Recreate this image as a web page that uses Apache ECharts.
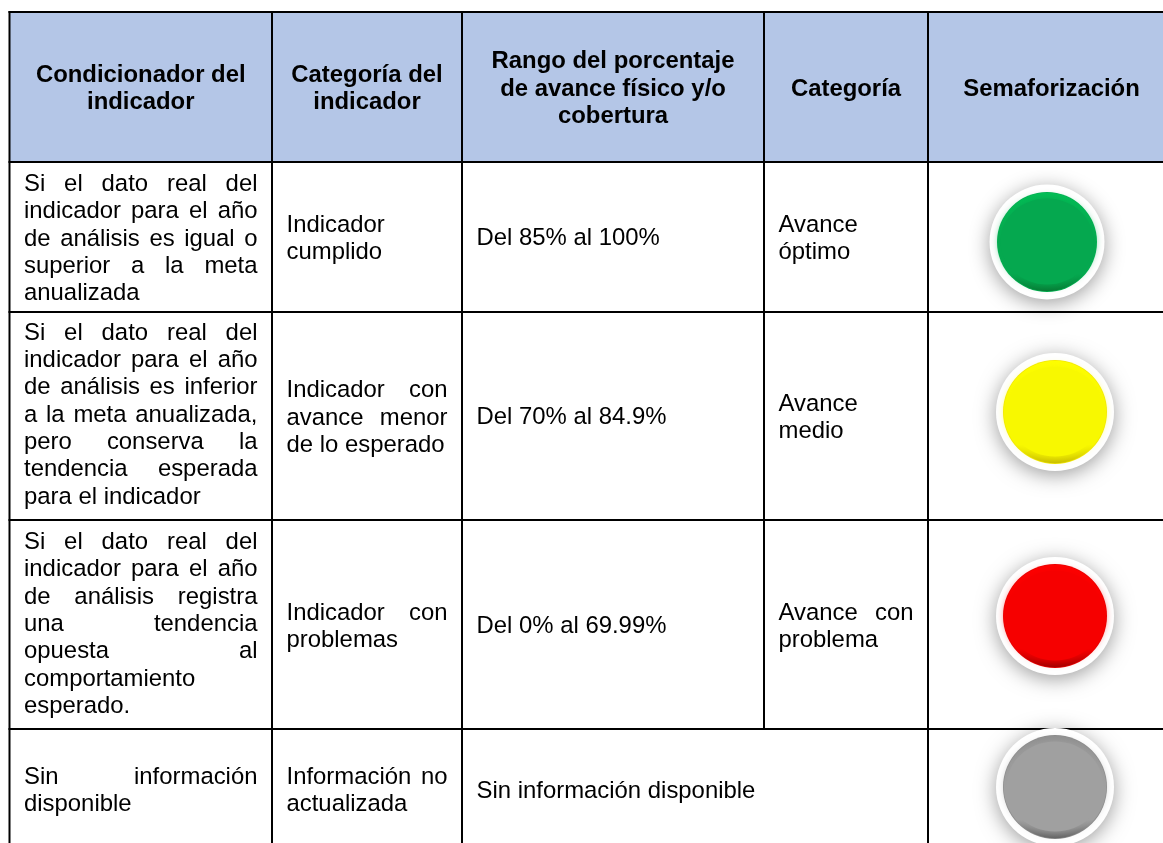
<!DOCTYPE html>
<html>
<head>
    <title>Semaforización</title>
    <meta http-equiv="content-type" content="text/html; charset=utf-8"/>
    <script src="https://cdn.jsdelivr.net/npm/echarts@6/dist/echarts.min.js"></script>
    <style>
        html, body { margin: 0; padding: 0; background: #fff; }
    </style>
</head>
<body>
<div id="main" style="width: 1163px; height: 843px;"></div>
<script type="text/javascript">

    // contenido de la tabla
    var encabezados = [
        ['Condicionador del', 'indicador'],
        ['Categoría del', 'indicador'],
        ['Rango del porcentaje', 'de avance físico y/o', 'cobertura'],
        ['Categoría'],
        ['Semaforización']
    ];
    var condicionador = [
        ['Si el dato real del', 'indicador para el año', 'de análisis es igual o', 'superior a la meta', 'anualizada'],
        ['Si el dato real del', 'indicador para el año', 'de análisis es inferior', 'a la meta anualizada,', 'pero conserva la', 'tendencia esperada', 'para el indicador'],
        ['Si el dato real del', 'indicador para el año', 'de análisis registra', 'una tendencia', 'opuesta al', 'comportamiento', 'esperado.'],
        ['Sin información', 'disponible']
    ];
    var categoriaIndicador = [
        ['Indicador', 'cumplido'],
        ['Indicador con', 'avance menor', 'de lo esperado'],
        ['Indicador con', 'problemas'],
        ['Información no', 'actualizada']
    ];
    var rangoAvance = [
        ['Del 85% al 100%'],
        ['Del 70% al 84.9%'],
        ['Del 0% al 69.99%'],
        ['Sin información disponible']
    ];
    var categoriaAvance = [
        ['Avance', 'óptimo'],
        ['Avance', 'medio'],
        ['Avance con', 'problema'],
        []
    ];
    var semaforos = ['verde', 'amarillo', 'rojo', 'gris'];

    // geometria de la tabla (pixeles del eje)
    var colX = [9.5, 272, 462, 764, 928, 1175];
    var filaY = [12, 162, 312, 520, 729, 860];
    var FONT_SIZE = 23.9;
    var LINE_H = 27.35;
    var FONT = '"Liberation Sans", Arial, sans-serif';
    var PAD_X = 14.5;

    // centros verticales de cada fila
    var centroHeader = 89;
    var centroCol1 = [239, 415, 624.5, 791];
    var centroResto = [239, 418, 627, 791];
    var centroRango = [238, 417, 626, 791];

    var centroSemaforo = [[1047, 242, 57.5, 50], [1055, 412, 59, 52], [1055, 616, 59, 52], [1055, 787, 59, 52]];
    var colorSemaforo = {
        verde: { cara: '#05a84f', arriba: '#00c055', abajo: '#067a33', borde: '#00b050' },
        amarillo: { cara: '#f8f800', arriba: '#ffff00', abajo: '#c8bc00', borde: '#f2e600' },
        rojo: { cara: '#f60000', arriba: '#ff0000', abajo: '#a00000', borde: '#e80000' },
        gris: { cara: '#a0a0a0', arriba: '#8e8e8e', abajo: '#626262', borde: '#8a8a8a' }
    };

    var ctx = document.createElement('canvas').getContext('2d');
    function anchoTexto(t, bold) {
        ctx.font = (bold ? 'bold ' : '') + FONT_SIZE + 'px ' + FONT;
        return ctx.measureText(t).width;
    }

    // lista plana de celdas, cada una con sus lineas
    var celdas = [];
    encabezados.forEach(function (lineas, c) {
        celdas.push({ lineas: lineas, x0: colX[c], x1: colX[c + 1], cy: centroHeader, modo: 'centro' });
    });
    for (var f = 0; f < semaforos.length; f++) {
        celdas.push({ lineas: condicionador[f], x0: colX[0], x1: colX[1], cy: centroCol1[f], modo: 'justo' });
        celdas.push({ lineas: categoriaIndicador[f], x0: colX[1], x1: colX[2], cy: centroResto[f], modo: 'justo' });
        celdas.push({ lineas: rangoAvance[f], x0: colX[2], x1: colX[3], cy: centroRango[f], modo: 'izq' });
        celdas.push({ lineas: categoriaAvance[f], x0: colX[3], x1: colX[4], cy: centroResto[f], modo: 'justo' });
    }

    function textoItem(api, t, x, y, bold, align) {
        var p = api.coord([x, y]);
        return {
            type: 'text',
            style: {
                text: t, x: p[0], y: p[1],
                fontSize: FONT_SIZE, fontFamily: FONT, fontWeight: bold ? 'bold' : 'normal',
                fill: '#000', align: align, verticalAlign: 'middle'
            }
        };
    }

    function pintaCelda(params, api) {
        var celda = celdas[api.value(0)];
        var hijos = [];
        var n = celda.lineas.length;
        celda.lineas.forEach(function (linea, i) {
            var y = celda.cy + (i - (n - 1) / 2) * LINE_H;
            if (celda.modo === 'centro') {
                hijos.push(textoItem(api, linea, (celda.x0 + celda.x1) / 2, y, true, 'center'));
                return;
            }
            var izq = celda.x0 + PAD_X;
            var palabras = linea.split(' ');
            // ultima linea y lineas de una palabra quedan sin justificar
            if (celda.modo !== 'justo' || i === n - 1 || palabras.length < 2) {
                hijos.push(textoItem(api, linea, izq, y, false, 'left'));
                return;
            }
            var der = celda.x1 - PAD_X;
            var suma = 0;
            palabras.forEach(function (w) { suma += anchoTexto(w, false); });
            var hueco = (der - izq - suma) / (palabras.length - 1);
            var x = izq;
            palabras.forEach(function (w) {
                hijos.push(textoItem(api, w, x, y, false, 'left'));
                x += anchoTexto(w, false) + hueco;
            });
        });
        return { type: 'group', children: hijos };
    }

    function pintaLinea(params, api) {
        var a = api.coord([api.value(0), api.value(1)]);
        var b = api.coord([api.value(2), api.value(3)]);
        return {
            type: 'line',
            shape: { x1: a[0], y1: a[1], x2: b[0], y2: b[1] },
            style: { stroke: '#000', lineWidth: 2 }
        };
    }

    function pintaSemaforo(params, api) {
        var i = api.value(0);
        var s = centroSemaforo[i];
        var col = colorSemaforo[semaforos[i]];
        var c = api.coord([s[0], s[1]]);
        var rOut = api.size([s[2], 0])[0];
        var rIn = api.size([s[3], 0])[0];
        return {
            type: 'group',
            children: [
                {
                    type: 'circle',
                    shape: { cx: c[0], cy: c[1], r: rOut },
                    style: { fill: '#fff', shadowBlur: 20, shadowColor: 'rgba(0,0,0,0.38)', shadowOffsetY: 4 }
                },
                {
                    type: 'circle',
                    shape: { cx: c[0], cy: c[1], r: rIn },
                    style: { fill: col.borde }
                },
                {
                    type: 'circle',
                    shape: { cx: c[0], cy: c[1], r: rIn - 0.8 },
                    style: {
                        fill: {
                            type: 'linear', x: 0, y: 0, x2: 0, y2: 1,
                            colorStops: [
                                { offset: 0, color: col.arriba },
                                { offset: 0.5, color: col.cara },
                                { offset: 0.82, color: col.cara },
                                { offset: 1, color: col.abajo }
                            ]
                        }
                    }
                },
                {
                    // cara central, el blur suaviza el canto
                    type: 'ellipse',
                    shape: { cx: c[0], cy: c[1] - 0.5, rx: rIn - 3.5, ry: rIn - 7 },
                    style: { fill: col.cara, shadowBlur: 8, shadowColor: col.cara }
                }
            ]
        };
    }

    var lineas = [];
    filaY.slice(0, 5).forEach(function (y) { lineas.push([colX[0] - 1, y, colX[5], y]); });
    [0, 1, 2, 4].forEach(function (c) { lineas.push([colX[c], filaY[0] - 1, colX[c], filaY[5]]); });
    lineas.push([colX[3], filaY[0] - 1, colX[3], filaY[4]]);

    var myChart = echarts.init(document.getElementById('main'));

    myChart.setOption({
        backgroundColor: '#fff',
        animation: false,
        grid: { left: 0, right: 0, top: 0, bottom: 0 },
        xAxis: { type: 'value', min: 0, max: 1163, show: false },
        yAxis: { type: 'value', min: 0, max: 843, inverse: true, show: false },
        series: [
            {
                // fondo del encabezado
                type: 'custom',
                clip: true,
                z: 1,
                data: [[colX[0], filaY[0], colX[5], filaY[1]]],
                renderItem: function (params, api) {
                    var a = api.coord([api.value(0), api.value(1)]);
                    var b = api.coord([api.value(2), api.value(3)]);
                    return {
                        type: 'rect',
                        shape: { x: a[0], y: a[1], width: b[0] - a[0], height: b[1] - a[1] },
                        style: { fill: '#b4c6e7' }
                    };
                }
            },
            {
                type: 'custom',
                clip: true,
                z: 2,
                data: lineas,
                renderItem: pintaLinea
            },
            {
                type: 'custom',
                z: 3,
                data: celdas.map(function (c, i) { return [i]; }),
                encode: { x: -1, y: -1 },
                renderItem: pintaCelda
            },
            {
                type: 'custom',
                clip: true,
                z: 4,
                data: semaforos.map(function (s, i) { return [i]; }),
                encode: { x: -1, y: -1 },
                renderItem: pintaSemaforo
            }
        ]
    });
</script>
</body>
</html>
